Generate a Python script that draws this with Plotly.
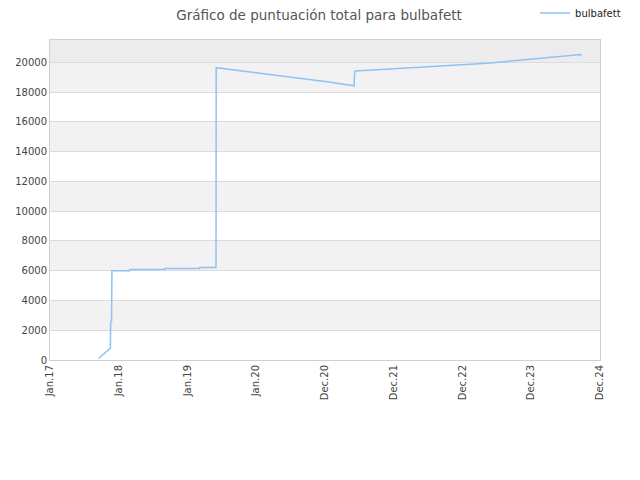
import plotly.graph_objects as go

# datos de puntuación
dates = [
    "2017-09-16", "2017-10-20", "2017-11-18", "2017-11-19", "2017-11-24", "2017-11-26",
    "2018-02-28", "2018-03-01", "2018-09-02", "2018-09-03", "2019-03-07", "2019-03-08", "2019-06-02",
    "2019-06-03", "2019-08-15", "2019-10-28", "2020-01-10", "2020-03-25", "2020-06-05",
    "2020-08-18", "2020-10-30", "2021-01-12", "2021-03-25", "2021-06-05",
    "2021-06-06", "2021-06-10",
    "2021-08-20", "2021-11-01", "2022-01-15", "2022-03-28", "2022-06-10", "2022-08-22",
    "2022-11-03", "2023-01-16", "2023-03-30", "2023-06-12", "2023-08-24", "2023-11-06",
    "2024-01-18", "2024-04-01", "2024-06-13", "2024-08-26", "2024-09-20", "2024-09-22",
]
scores = [
    100, 450, 800, 2550, 2600, 6000,
    6000, 6080, 6080, 6150, 6150, 6220, 6220,
    19640, 19530, 19420, 19300, 19180, 19060,
    18940, 18820, 18700, 18560, 18420,
    19050, 19420,
    19470, 19520, 19570, 19620, 19680, 19730,
    19790, 19850, 19910, 19970, 20050, 20130,
    20220, 20300, 20380, 20460, 20530, 20400,
]

tick_dates = ["2017-01-01", "2018-01-01", "2019-01-01", "2020-01-01", "2021-01-01",
              "2022-01-01", "2023-01-01", "2024-01-01", "2025-01-01"]
tick_labels = ["Jan.17", "Jan.18", "Jan.19", "Jan.20", "Dec.20",
               "Dec.21", "Dec.22", "Dec.23", "Dec.24"]
y_ticks = list(range(0, 20001, 2000))
y_max = 21500

fig = go.Figure()
fig.add_trace(go.Scatter(
    x=dates, y=scores, mode="lines", name="bulbafett",
    line=dict(color="#8fc2f2", width=1.5),
))

# franjas grises alternas
shapes = []
for i, lo in enumerate(y_ticks):
    hi = lo + 2000 if lo < 20000 else y_max
    if lo == 20000:
        color = "#ececec"
    elif i % 2 == 1:
        color = "#f2f2f2"
    else:
        continue
    shapes.append(dict(type="rect", xref="paper", x0=0, x1=1, yref="y", y0=lo, y1=hi,
                       fillcolor=color, line_width=0, layer="below"))

fig.update_layout(
    width=640, height=480,
    margin=dict(l=42, r=48, t=32, b=128, autoexpand=False),
    paper_bgcolor="white", plot_bgcolor="white",
    font=dict(family="DejaVu Sans", size=10, color="#444"),
    title=dict(text="Gráfico de puntuación total para bulbafett", x=0.486, xanchor="center",
               y=0.984, yanchor="middle", font=dict(size=13.5, color="#555")),
    shapes=shapes,
    showlegend=True,
    legend=dict(x=0.882, xanchor="left", y=1.084, yanchor="middle",
                font=dict(size=10, color="#222"), bgcolor="rgba(0,0,0,0)"),
    xaxis=dict(type="date", range=["2017-01-01", "2025-01-01"],
               tickvals=tick_dates, ticktext=tick_labels, tickangle=-90,
               showgrid=False, showline=True, linecolor="#d0d0d0", mirror=True,
               ticks="", zeroline=False),
    yaxis=dict(range=[0, y_max], tickvals=y_ticks, ticktext=[str(v) for v in y_ticks],
               showgrid=True, gridcolor="#dcdcdc",
               showline=True, linecolor="#d0d0d0", mirror=True, zeroline=False, ticks=""),
)

fig.write_html("out.html")
